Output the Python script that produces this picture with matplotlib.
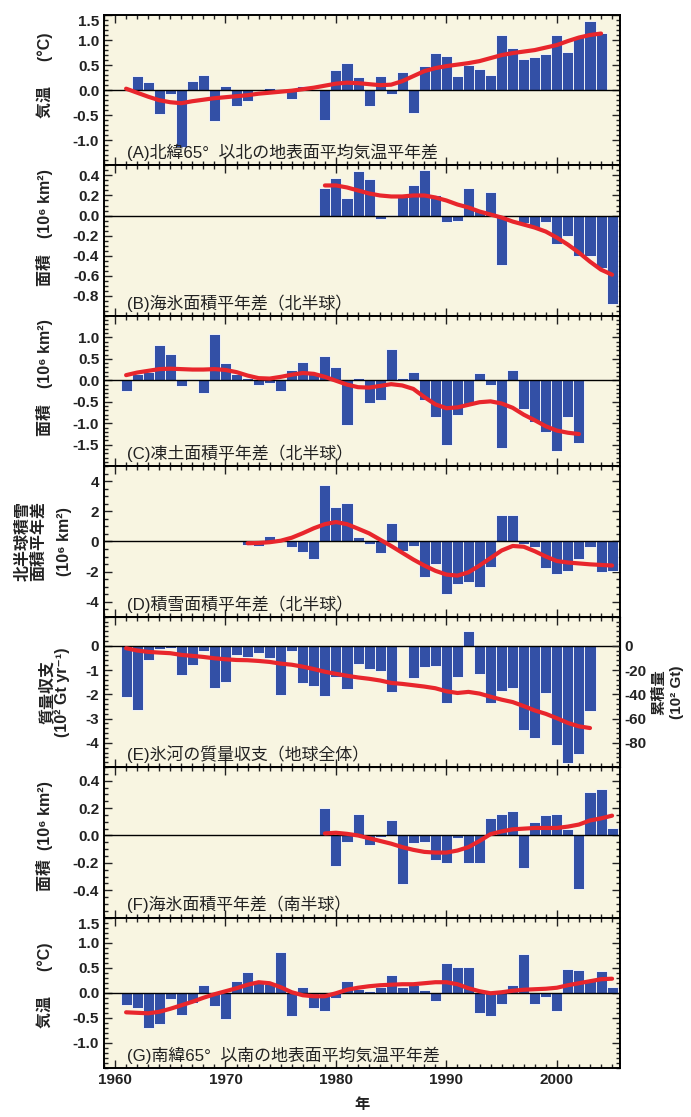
import numpy as np
import matplotlib.pyplot as plt
from matplotlib.ticker import MultipleLocator

plt.rcParams['font.family'] = ['Liberation Sans', 'Noto Sans CJK JP', 'DejaVu Sans']
plt.rcParams['axes.unicode_minus'] = False

# (A) Arctic (north of 65N) temperature anomaly, degC
a_years = np.arange(1962, 2005)
a_vals = [0.28, 0.17, -0.48, -0.08, -1.13, 0.18, 0.3, -0.62, 0.08, -0.32,
          -0.22, 0.0, 0.04, 0.0, -0.17, 0.08, 0.0, -0.6, 0.4, 0.55,
          0.26, -0.32, 0.28, -0.08, 0.37, -0.46, 0.48, 0.74, 0.68, 0.28,
          0.5, 0.42, 0.3, 1.1, 0.85, 0.62, 0.67, 0.72, 1.1, 0.76,
          1.06, 1.38, 1.14]
a_line_years = np.arange(1961, 2005)
a_line = [0.03, -0.05, -0.13, -0.2, -0.24, -0.26, -0.22, -0.19, -0.16, -0.14,
          -0.12, -0.1, -0.07, -0.05, -0.03, -0.01, 0.02, 0.05, 0.09, 0.13,
          0.15, 0.14, 0.12, 0.1, 0.11, 0.18, 0.28, 0.38, 0.44, 0.48,
          0.51, 0.54, 0.58, 0.64, 0.7, 0.74, 0.77, 0.8, 0.85, 0.9,
          0.98, 1.05, 1.1, 1.13]

# (B) NH sea ice extent anomaly, 10^6 km2
b_years = np.arange(1979, 2006)
b_vals = [0.27, 0.37, 0.17, 0.44, 0.36, -0.03, 0.01, 0.2, 0.3, 0.45,
          0.2, -0.06, -0.05, 0.27, 0.05, 0.23, -0.49, 0.0, -0.07, -0.12,
          -0.06, -0.28, -0.2, -0.4, -0.4, -0.52, -0.88]
b_line = [0.30, 0.30, 0.28, 0.25, 0.22, 0.20, 0.19, 0.19, 0.20, 0.20,
          0.18, 0.15, 0.11, 0.08, 0.04, 0.01, -0.02, -0.06, -0.09, -0.12,
          -0.16, -0.22, -0.29, -0.37, -0.46, -0.54, -0.59]

# (C) NH frozen ground extent anomaly, 10^6 km2
c_years = np.arange(1961, 2003)
c_vals = [-0.25, 0.15, 0.2, 0.83, 0.61, -0.13, 0.04, -0.29, 1.07, 0.4,
          0.14, 0.06, -0.12, -0.07, -0.25, 0.24, 0.42, 0.15, 0.56, 0.31,
          -1.05, 0.06, -0.53, -0.46, 0.73, 0.06, 0.2, -0.46, -0.86, -1.51,
          -0.8, -0.57, 0.18, -0.12, -1.57, 0.24, -0.66, -0.98, -1.2, -1.65,
          -0.86, -1.46]
c_line = [0.12, 0.18, 0.22, 0.26, 0.27, 0.26, 0.25, 0.25, 0.26, 0.24,
          0.19, 0.11, 0.05, 0.04, 0.08, 0.13, 0.17, 0.15, 0.08, -0.01,
          -0.1, -0.16, -0.17, -0.13, -0.09, -0.12, -0.2, -0.39, -0.56, -0.65,
          -0.63, -0.57, -0.51, -0.49, -0.54, -0.64, -0.8, -0.93, -1.07, -1.17,
          -1.22, -1.25]

# (D) NH snow cover anomaly, 10^6 km2
d_years = np.arange(1972, 2006)
d_vals = [-0.25, -0.3, 0.38, 0.18, -0.4, -0.68, -1.17, 3.77, 2.26, 2.57,
          0.32, -0.14, -0.79, 1.24, -0.62, -0.3, -2.37, -1.49, -3.5, -2.82,
          -2.71, -3.02, -1.69, 1.74, 1.74, -0.18, -0.34, -1.76, -2.14, -1.94,
          -1.15, -0.36, -2.05, -1.99]
d_line = [-0.12, -0.1, -0.05, 0.05, 0.25, 0.55, 0.88, 1.15, 1.29, 1.15,
          0.85, 0.54, 0.12, -0.3, -0.75, -1.2, -1.6, -1.95, -2.2, -2.27,
          -2.05, -1.6, -1.1, -0.6, -0.3, -0.35, -0.65, -1.0, -1.3, -1.4,
          -1.46, -1.52, -1.56, -1.6]

# (E) glacier mass balance, 10^2 Gt/yr, and cumulative, 10^2 Gt
e_years = np.arange(1961, 2004)
e_vals = [-2.1, -2.65, -0.58, -0.12, -0.1, -1.22, -0.8, -0.2, -1.74, -1.5,
          -0.38, -0.45, -0.3, -0.5, -2.02, -0.2, -1.52, -1.66, -2.07, -1.29,
          -1.78, -0.75, -0.97, -1.03, -1.92, -0.05, -1.33, -0.88, -0.85, -2.35,
          -1.3, 0.6, -1.15, -2.35, -1.88, -1.75, -3.45, -3.8, -1.95, -4.1,
          -4.85, -4.48, -2.7]
e_cum = [-2, -3.9, -5, -5.6, -6.1, -7.5, -8.3, -9.2, -10.3, -11.1,
         -11.7, -11.9, -12.5, -13.3, -14.7, -15.6, -17.2, -19.2, -21.4, -23.1,
         -24.7, -26.1, -27.2, -28.6, -30.6, -31.4, -32.5, -33.6, -35, -37.5,
         -38.9, -38, -39.4, -42, -44.4, -46.4, -49.7, -53.3, -56.1, -59.7,
         -63.6, -66.4, -67.8]

# (F) SH sea ice extent anomaly, 10^6 km2
f_years = np.arange(1979, 2006)
f_vals = [0.2, -0.22, -0.045, 0.16, -0.07, -0.01, 0.11, -0.355, -0.055, -0.05,
          -0.18, -0.2, -0.02, -0.2, -0.2, 0.13, 0.16, 0.18, -0.24, 0.1,
          0.15, 0.16, 0.05, -0.39, 0.32, 0.34, 0.055]
f_line = [0.015, 0.02, 0.012, 0.0, -0.02, -0.04, -0.06, -0.085, -0.105, -0.12,
          -0.125, -0.125, -0.11, -0.085, -0.04, 0.01, 0.03, 0.045, 0.05, 0.055,
          0.055, 0.055, 0.065, 0.08, 0.11, 0.125, 0.145]

# (G) Antarctic (south of 65S) temperature anomaly, degC
g_years = np.arange(1961, 2006)
g_vals = [-0.25, -0.3, -0.71, -0.62, -0.12, -0.45, -0.2, 0.16, -0.27, -0.52,
          0.24, 0.41, 0.19, 0.18, 0.81, -0.47, 0.11, -0.3, -0.37, -0.1,
          0.24, 0.08, 0.04, 0.11, 0.36, 0.12, 0.16, 0.06, -0.17, 0.59,
          0.51, 0.51, -0.41, -0.47, -0.22, 0.16, 0.77, -0.22, -0.09, -0.37,
          0.48, 0.45, 0.25, 0.43, 0.11]
g_line = [-0.39, -0.4, -0.41, -0.38, -0.32, -0.25, -0.18, -0.1, -0.03, 0.03,
          0.09, 0.16, 0.21, 0.19, 0.11, 0.01, -0.05, -0.07, -0.07, -0.01,
          0.06, 0.1, 0.13, 0.15, 0.16, 0.17, 0.17, 0.19, 0.21, 0.21,
          0.17, 0.09, 0.03, -0.01, 0.01, 0.04, 0.06, 0.07, 0.08, 0.1,
          0.15, 0.19, 0.23, 0.27, 0.28]

temp_ticks = [1.5, 1.0, 0.5, 0.0, -0.5, -1.0]
temp_labels = ['1.5', '1.0', '0.5', '0.0', '-0.5', '-1.0']
ice_ticks = [0.4, 0.2, 0.0, -0.2, -0.4, -0.6, -0.8]
ice_labels = ['0.4', '0.2', '0.0', '-0.2', '-0.4', '-0.6', '-0.8']
frost_ticks = [1.0, 0.5, 0.0, -0.5, -1.0, -1.5]
frost_labels = ['1.0', '0.5', '0.0', '-0.5', '-1.0', '-1.5']
snow_ticks = [4, 2, 0, -2, -4]
snow_labels = ['4', '2', '0', '-2', '-4']
glac_ticks = [0, -1, -2, -3, -4]
glac_labels = ['0', '-1', '-2', '-3', '-4']
cum_ticks = [0, -20, -40, -60, -80]
cum_labels = ['0', '-20', '-40', '-60', '-80']
sice_ticks = [0.4, 0.2, 0.0, -0.2, -0.4]
sice_labels = ['0.4', '0.2', '0.0', '-0.2', '-0.4']
year_ticks = [1960, 1970, 1980, 1990, 2000]

panel_titles = ['(A)北緯65°  以北の地表面平均気温平年差',
                '(B)海氷面積平年差（北半球）',
                '(C)凍土面積平年差（北半球）',
                '(D)積雪面積平年差（北半球）',
                '(E)氷河の質量収支（地球全体）',
                '(F)海氷面積平年差（南半球）',
                '(G)南緯65°  以南の地表面平均気温平年差']
ylabels = ['気温　  (°C)',
           '面積　(10⁶ km²)',
           '面積　(10⁶ km²)',
           '北半球積雪\n面積平年差',
           '質量収支\n(10² Gt yr⁻¹)',
           '面積  (10⁶ km²)',
           '気温　  (°C)']
ylabel_x = [-0.099, -0.099, -0.099, -0.112, -0.066, -0.099, -0.099]
ylabel_y = [0.6, 0.59, 0.59, 0.5, 0.5, 0.54, 0.55]

BAR = '#3350a6'
RED = '#e8262c'
BG = '#f8f5e1'
TXT = '#222222'

fig = plt.figure(figsize=(6.91, 11.17), dpi=100)
axes = fig.subplots(7, 1, sharex=True, gridspec_kw=dict(hspace=0))
fig.subplots_adjust(left=0.1505, right=0.897, top=0.9866, bottom=0.0439)

panels = [
    (a_years, a_vals, a_line_years, a_line, (-1.5, 1.5), temp_ticks, temp_labels, 0.1),
    (b_years, b_vals, b_years, b_line, (-1.0, 0.5), ice_ticks, ice_labels, 0.05),
    (c_years, c_vals, c_years, c_line, (-2.0, 1.5), frost_ticks, frost_labels, 0.1),
    (d_years, d_vals, d_years, d_line, (-5, 5), snow_ticks, snow_labels, 0.5),
    (e_years, e_vals, None, None, (-5, 1.2), glac_ticks, glac_labels, 0.2),
    (f_years, f_vals, f_years, f_line, (-0.6, 0.5), sice_ticks, sice_labels, 0.05),
    (g_years, g_vals, g_years, g_line, (-1.5, 1.5), temp_ticks, temp_labels, 0.1),
]


def style_ticks(a, right=True):
    a.tick_params(which='both', direction='in', top=True, right=right,
                  labelsize=11, colors=TXT, width=1.0)
    a.tick_params(which='major', length=6)
    a.tick_params(which='minor', length=3)
    for lab in a.get_xticklabels() + a.get_yticklabels():
        lab.set_fontweight('bold')


for i, (ax, p) in enumerate(zip(axes, panels)):
    yrs, vals, lyrs, lvals, ylim, ticks, labels, minor = p
    ax.set_facecolor(BG)
    ax.bar(yrs, vals, width=1.0, color=BAR, edgecolor='white', linewidth=0.6, zorder=2)
    ax.axhline(0, color='black', lw=1.0, zorder=3)
    if lyrs is not None:
        ax.plot(lyrs, lvals, color=RED, lw=3, solid_capstyle='round', zorder=4)
    ax.set_ylim(*ylim)
    ax.set_yticks(ticks)
    ax.set_yticklabels(labels)
    ax.yaxis.set_minor_locator(MultipleLocator(minor))
    ax.set_xlim(1959.0, 2005.7)
    ax.set_xticks(year_ticks)
    ax.xaxis.set_minor_locator(MultipleLocator(1))
    style_ticks(ax, right=(i != 4))
    for s in ax.spines.values():
        s.set_linewidth(1.4)
    for lab in ax.get_yticklabels():
        if lab.get_text() == '1.5':
            lab.set_va('top')
    ax.set_ylabel(ylabels[i], fontsize=11.5, fontweight='bold', linespacing=1.0,
                  color=TXT)
    ax.yaxis.set_label_coords(ylabel_x[i], ylabel_y[i])
    ax.text(0.045, 0.085, panel_titles[i], transform=ax.transAxes,
            fontsize=12.2, va='center', ha='left', color=TXT, zorder=5)

# third line of the panel D unit label sits apart from the other two
axes[3].text(-0.076, 0.5, '(10⁶ km²)', transform=axes[3].transAxes, rotation=90,
             ha='center', va='center', fontsize=11.5, fontweight='bold', color=TXT)

# cumulative glacier mass on the right axis of panel E
ax_e = axes[4]
ax_r = ax_e.twinx()
ax_r.plot(e_years, e_cum, color=RED, lw=3, solid_capstyle='round', zorder=4)
ax_r.set_ylim(-100, 24)
ax_r.set_yticks(cum_ticks)
ax_r.set_yticklabels(cum_labels)
ax_r.yaxis.set_minor_locator(MultipleLocator(4))
style_ticks(ax_r)
ax_r.tick_params(top=False)
ax_r.set_ylabel('累積量\n(10² Gt)', fontsize=11, fontweight='bold', linespacing=1.35,
                color=TXT)
ax_r.yaxis.set_label_coords(1.062, 0.5)

axes[-1].set_xlabel('年', fontsize=11, fontweight='bold', labelpad=8, color=TXT)

fig.savefig('out.png', dpi=100, facecolor='white')
